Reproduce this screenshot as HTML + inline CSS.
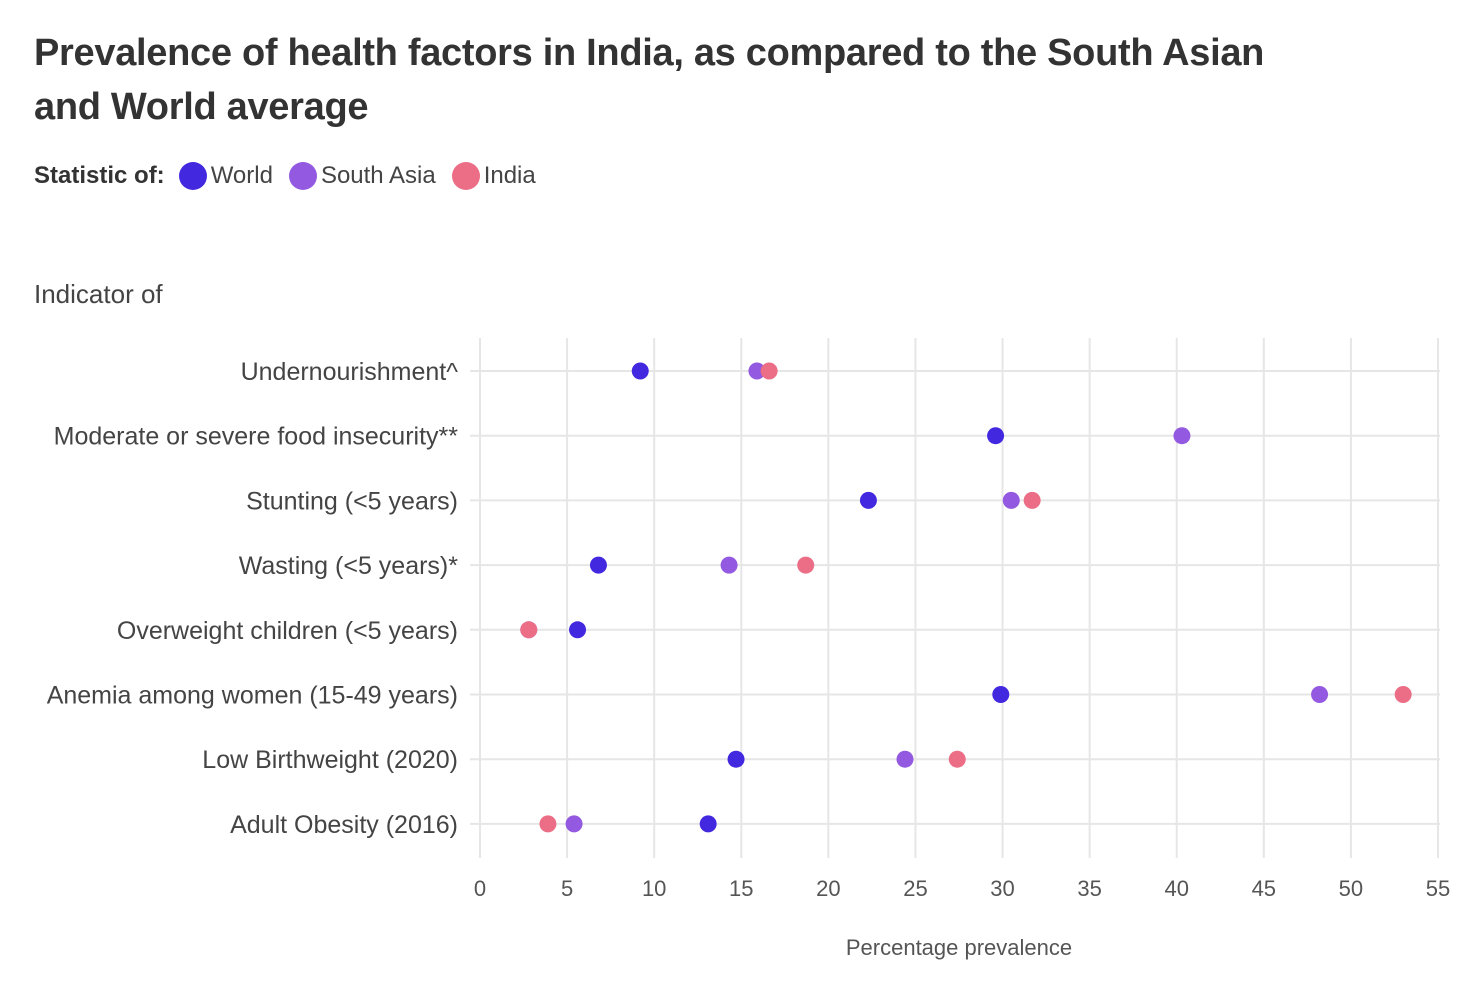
<!DOCTYPE html>
<html><head><meta charset="utf-8"><style>
body{margin:0;background:#fff;width:1480px;height:982px;overflow:hidden;font-family:"Liberation Sans",sans-serif;color:#333}
h1{position:absolute;left:34px;top:26px;margin:0;font-size:38px;line-height:54px;font-weight:bold;color:#333;width:1300px;letter-spacing:-0.3px}
.legend{position:absolute;left:34px;top:162px;font-size:24px;display:flex;align-items:center;color:#444}
.legend b{margin-right:14px;color:#333}
.li{display:flex;align-items:center;margin-right:16px}
.dot{width:28px;height:28px;border-radius:50%;margin-right:4px}
</style></head><body>
<h1>Prevalence of health factors in India, as compared to the South Asian and World average</h1>
<div class="legend"><b>Statistic of:</b>
<span class="li"><span class="dot" style="background:#4229e0"></span>World</span>
<span class="li"><span class="dot" style="background:#9359e0"></span>South Asia</span>
<span class="li"><span class="dot" style="background:#ec6e86"></span>India</span></div>
<svg id="chart" width="1480" height="982" style="position:absolute;left:0;top:0"></svg>
<script>
const categories=["Undernourishment^","Moderate or severe food insecurity**","Stunting (<5 years)","Wasting (<5 years)*","Overweight children (<5 years)","Anemia among women (15-49 years)","Low Birthweight (2020)","Adult Obesity (2016)"];
const worldValues=[9.2,29.6,22.3,6.8,5.6,29.9,14.7,13.1];
const southAsiaValues=[15.9,40.3,30.5,14.3,2.8,48.2,24.4,5.4];
const indiaValues=[16.6,null,31.7,18.7,2.8,53.0,27.4,3.9];
const xTicks=[0,5,10,15,20,25,30,35,40,45,50,55];
const svg=document.getElementById('chart');const NS='http://www.w3.org/2000/svg';
const x=v=>480+v*(958/55);
const y=i=>371+i*64.7;
function mk(t,a,p){const e=document.createElementNS(NS,t);for(const k in a)e.setAttribute(k,a[k]);(p||svg).appendChild(e);return e;}
let t=mk('text',{x:34,y:303,'font-size':26,fill:'#444'});t.textContent='Indicator of';


xTicks.forEach(v=>{const l=mk('line',{x1:x(v),x2:x(v),y1:338,y2:858,stroke:'#e6e6e6','stroke-width':2});


const tx=mk('text',{x:x(v),y:896,'font-size':22,fill:'#555','text-anchor':'middle'});tx.textContent=v;

});
categories.forEach((c,i)=>{const l=mk('line',{x1:470,x2:1440,y1:y(i),y2:y(i),stroke:'#e6e6e6','stroke-width':2});


const tx=mk('text',{x:458,y:y(i)+9,'font-size':25,fill:'#444','text-anchor':'end'});tx.textContent=c;

});
t=mk('text',{x:959,y:955,'font-size':22,fill:'#555','text-anchor':'middle'});t.textContent='Percentage prevalence';


[[worldValues,'#4229e0','world'],[southAsiaValues,'#9359e0','south-asia'],[indiaValues,'#ec6e86','india']].forEach(([arr,col,n])=>{
arr.forEach((v,i)=>{if(v==null)return;const d=mk('circle',{cx:x(v),cy:y(i),r:8.5,fill:col});

});});
</script>
</body></html>
